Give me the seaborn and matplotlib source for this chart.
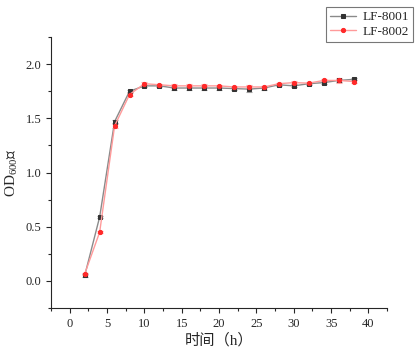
import numpy as np
import pandas as pd
import matplotlib
matplotlib.use("Agg")
import matplotlib.pyplot as plt
import seaborn as sns
from matplotlib.ticker import MultipleLocator

# growth curve values
time_h = [2, 4, 6, 8, 10, 12, 14, 16, 18, 20, 22, 24, 26, 28, 30, 32, 34, 36, 38]
od_8001 = [0.05, 0.59, 1.47, 1.75, 1.80, 1.80, 1.78, 1.78, 1.78, 1.78, 1.775, 1.77,
           1.78, 1.81, 1.80, 1.82, 1.83, 1.85, 1.86]
od_8002 = [0.065, 0.45, 1.43, 1.72, 1.82, 1.81, 1.80, 1.80, 1.80, 1.80, 1.79, 1.79,
           1.79, 1.82, 1.83, 1.825, 1.85, 1.85, 1.84]
err_8001 = [0.01, 0.01, 0.015, 0.01, 0.01, 0.01, 0.02, 0.015, 0.02, 0.015, 0.015, 0.025,
            0.015, 0.01, 0.015, 0.01, 0.015, 0.015, 0.01]
err_8002 = [0.01, 0.01, 0.015, 0.015, 0.015, 0.01, 0.02, 0.015, 0.015, 0.01, 0.01, 0.02,
            0.01, 0.01, 0.015, 0.01, 0.015, 0.025, 0.015]

df = pd.DataFrame({
    "time": time_h * 2,
    "od": od_8001 + od_8002,
    "strain": ["LF-8001"] * len(time_h) + ["LF-8002"] * len(time_h),
})

sns.set_style("ticks")
plt.rcParams["font.family"] = ["Liberation Serif", "Noto Sans CJK SC"]
plt.rcParams["mathtext.fontset"] = "custom"
plt.rcParams["mathtext.rm"] = "Liberation Serif"

fig = plt.figure(figsize=(4.19, 3.5), dpi=100)
ax = fig.add_axes([0.122, 0.12, 0.802, 0.774])

line_cols = {"LF-8001": "#8a8a8a", "LF-8002": "#ff9a9a"}
mark_cols = {"LF-8001": "#333333", "LF-8002": "#ff2a2a"}
markers = {"LF-8001": "s", "LF-8002": "o"}

ax.errorbar(time_h, od_8001, yerr=err_8001, fmt="none", ecolor="#a0a0a0",
            elinewidth=0.8, capsize=2.5, capthick=0.8, zorder=1)
ax.errorbar(time_h, od_8002, yerr=err_8002, fmt="none", ecolor="#ffaaaa",
            elinewidth=0.8, capsize=2.5, capthick=0.8, zorder=1)

for name in ["LF-8001", "LF-8002"]:
    sub = df[df["strain"] == name]
    sns.lineplot(data=sub, x="time", y="od", ax=ax, color=line_cols[name],
                 linewidth=1.0, marker=markers[name], markersize=3,
                 markerfacecolor=mark_cols[name], markeredgecolor=mark_cols[name],
                 label=name, zorder=2)

ax.set_xlim(-2.5, 42.5)
ax.set_ylim(-0.25, 2.25)
ax.xaxis.set_major_locator(MultipleLocator(5))
ax.xaxis.set_minor_locator(MultipleLocator(2.5))
ax.yaxis.set_major_locator(MultipleLocator(0.5))
ax.yaxis.set_minor_locator(MultipleLocator(0.25))
ax.set_yticks([0.0, 0.5, 1.0, 1.5, 2.0])
ax.set_yticklabels(["0.0", "0.5", "1.0", "1.5", "2.0"])
ax.set_xticks([0, 5, 10, 15, 20, 25, 30, 35, 40])
ax.tick_params(axis="both", which="major", direction="out", length=3.5, width=0.8, labelsize=9)
ax.tick_params(axis="both", which="minor", direction="out", length=2, width=0.8)
sns.despine(ax=ax)

ax.set_xlabel("时间（h）", fontsize=11, labelpad=2)
ax.set_ylabel("OD$_{600}$值", fontsize=11, labelpad=4)

leg = ax.legend(loc="upper right", bbox_to_anchor=(1.077, 1.111), frameon=True,
                fancybox=False, edgecolor="#555555", fontsize=9.5,
                handlelength=2.0, handletextpad=0.5, borderpad=0.3,
                labelspacing=0.2, borderaxespad=0)
leg.get_frame().set_linewidth(0.8)

fig.savefig("out.png", dpi=100)
